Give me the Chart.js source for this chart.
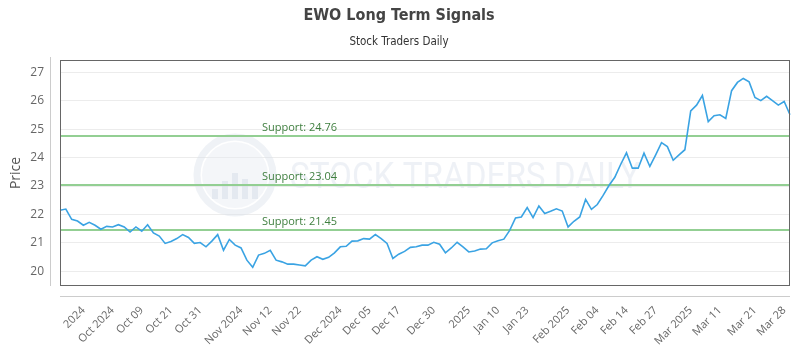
<!DOCTYPE html>
<html lang="en">
<head>
  <meta charset="UTF-8">
  <title>EWO Long Term Signals</title>
  <script src="https://cdn.jsdelivr.net/npm/chart.js"></script>
  <style>
    body { margin: 0; background: #fff; }
    #wrap { width: 800px; height: 350px; }
  </style>
</head>
<body>
  <div id="wrap"><canvas id="chart" width="800" height="350"></canvas></div>

  <script>
    // daily closes
    const price = [
      22.15, 22.19, 21.83, 21.77, 21.62, 21.72, 21.62, 21.48, 21.58, 21.56,
      21.64, 21.56, 21.38, 21.56, 21.41, 21.64, 21.35, 21.24, 20.98, 21.05,
      21.15, 21.29, 21.19, 20.98, 21.01, 20.86, 21.06, 21.29, 20.74, 21.12,
      20.92, 20.82, 20.39, 20.14, 20.57, 20.63, 20.74, 20.39, 20.33, 20.25,
      20.25, 20.22,
      20.19, 20.39, 20.51, 20.42, 20.49, 20.65, 20.86, 20.88, 21.06, 21.07,
      21.15, 21.13, 21.29, 21.15, 20.98, 20.45, 20.60, 20.70, 20.84, 20.86,
      20.92, 20.92, 21.02, 20.95, 20.65, 20.82, 21.02, 20.86, 20.68, 20.71,
      20.78, 20.79, 21.00, 21.07, 21.13, 21.44, 21.88,
      21.91, 22.24, 21.89, 22.30, 22.03, 22.11, 22.20, 22.12, 21.56, 21.76,
      21.91, 22.53, 22.18, 22.35, 22.67, 23.02, 23.31, 23.76, 24.17, 23.63,
      23.63, 24.16, 23.69, 24.10, 24.53, 24.39, 23.91, 24.10, 24.28, 25.65,
      25.85, 26.19, 25.27, 25.48, 25.51, 25.38, 26.36, 26.65, 26.79, 26.67,
      26.12, 26.01, 26.16, 26.01, 25.85, 25.98, 25.51
    ];

    const supportLevels = [24.76, 23.04, 21.45];

    const yTicks = [20, 21, 22, 23, 24, 25, 26, 27];

    // which point each x label sits on
    const tickIdx = [4, 9, 14, 19, 24, 31, 36, 41, 48, 53, 58, 64, 70, 75, 80, 87, 92, 97, 102, 108, 113, 119, 124];
    const tickText = ['2024', 'Oct 2024', 'Oct 09', 'Oct 21', 'Oct 31', 'Nov 2024', 'Nov 12', 'Nov 22',
      'Dec 2024', 'Dec 05', 'Dec 17', 'Dec 30', '2025', 'Jan 10', 'Jan 23', 'Feb 2025', 'Feb 04',
      'Feb 14', 'Feb 27', 'Mar 2025', 'Mar 11', 'Mar 21', 'Mar 28'];

    const labels = price.map((_, i) => i);

    Chart.defaults.font.family = "'Open Sans', sans-serif";
    Chart.defaults.color = '#666';

    // frame, offset axis lines and the faint watermark
    const decor = {
      id: 'decor',
      beforeDatasetsDraw(chart) {
        const { ctx, chartArea: a } = chart;
        ctx.save();
        ctx.globalAlpha = 0.45;
        const cx = a.left + (235 - 60) / 730 * (a.right - a.left);
        const cy = (a.top + a.bottom) / 2 + 2;
        ctx.strokeStyle = '#dbe3ec';
        ctx.lineWidth = 7;
        ctx.beginPath();
        ctx.arc(cx, cy, 38, 0, Math.PI * 2);
        ctx.stroke();
        ctx.fillStyle = '#e6ebf1';
        ctx.beginPath();
        ctx.arc(cx, cy, 33, 0, Math.PI * 2);
        ctx.fill();
        ctx.fillStyle = '#d0d9e4';
        [[-20, 10], [-10, 18], [0, 26], [10, 20], [20, 14]].forEach(([dx, h]) => {
          ctx.fillRect(cx + dx - 3, cy + 24 - h, 6, h);
        });
        ctx.font = "36px 'Roboto', sans-serif";
        ctx.fillStyle = '#d9e1ea';
        ctx.textBaseline = 'middle';
        const txt = 'STOCK TRADERS DAILY';
        const w = ctx.measureText(txt).width;
        ctx.translate(cx + 55, cy + 4);
        ctx.scale(350 / w, 1);
        ctx.fillText(txt, 0, 0);
        ctx.restore();
      },
      afterDatasetsDraw(chart) {
        const { ctx, chartArea: a, scales } = chart;
        ctx.save();
        ctx.font = "11px 'Open Sans', sans-serif";
        ctx.fillStyle = '#3f7f3f';
        ctx.textBaseline = 'middle';
        const lx = a.left + (262 - 60) / 730 * (a.right - a.left);
        supportLevels.forEach(v => {
          ctx.fillText('Support: ' + v.toFixed(2), lx, scales.y.getPixelForValue(v) - 8);
        });
        ctx.strokeStyle = '#666';
        ctx.lineWidth = 1;
        ctx.strokeRect(Math.round(a.left) + 0.5, Math.round(a.top) + 0.5,
          Math.round(a.right - a.left) - 1, Math.round(a.bottom - a.top) - 1);
        ctx.strokeStyle = '#ccc';
        ctx.beginPath();
        ctx.moveTo(Math.round(a.left) - 9.5, a.top - 3);
        ctx.lineTo(Math.round(a.left) - 9.5, a.bottom);
        ctx.moveTo(a.left, Math.round(a.bottom) + 10.5);
        ctx.lineTo(a.right, Math.round(a.bottom) + 10.5);
        ctx.stroke();
        ctx.restore();
      }
    };

    new Chart(document.getElementById('chart'), {
      type: 'line',
      data: {
        labels: labels,
        datasets: [{
          label: 'Price',
          data: price,
          borderColor: '#3aa3e3',
          borderWidth: 1.6,
          pointRadius: 0,
          tension: 0
        }].concat(supportLevels.map(v => ({
          label: 'Support ' + v,
          data: price.map(() => v),
          borderColor: '#93cf93',
          borderWidth: 2,
          pointRadius: 0
        })))
      },
      options: {
        responsive: false,
        animation: false,
        layout: { padding: { left: 8, right: 10, top: 0, bottom: 0 } },
        plugins: {
          legend: { display: false },
          tooltip: { enabled: false },
          title: {
            display: true,
            text: 'EWO Long Term Signals',
            color: '#444',
            font: { family: "'Liberation Sans Narrow', 'DejaVu Sans Condensed', sans-serif", size: 16, weight: 'bold' },
            padding: { top: 6, bottom: 5 }
          },
          subtitle: {
            display: true,
            text: 'Stock Traders Daily',
            color: '#333',
            font: { family: "'Liberation Sans Narrow', 'DejaVu Sans Condensed', sans-serif", size: 11.5 },
            padding: { top: 5, bottom: 11 }
          }
        },
        scales: {
          x: {
            grid: { display: false, drawTicks: false },
            border: { display: false },
            afterFit: s => { s.height = 64; s.paddingLeft = 0; s.paddingRight = 0; },
            ticks: {
              autoSkip: false,
              minRotation: 45,
              maxRotation: 45,
              padding: 18,
              font: { size: 11 },
              callback: (v, i) => {
                const k = tickIdx.indexOf(i);
                return k >= 0 ? tickText[k] : null;
              }
            }
          },
          y: {
            min: 19.48,
            max: 27.44,
            afterBuildTicks: axis => {
              axis.ticks = yTicks.map(v => ({ value: v }));
            },
            afterFit: s => { s.width = 52; s.paddingTop = 0; s.paddingBottom = 0; },
            grid: { color: '#ececec', drawTicks: false },
            border: { display: false },
            ticks: { padding: 16, font: { size: 12 } },
            title: { display: true, text: 'Price', color: '#555', font: { size: 14 }, padding: { top: 0, bottom: 0 } }
          }
        }
      },
      plugins: [decor]
    });
  </script>
</body>
</html>
